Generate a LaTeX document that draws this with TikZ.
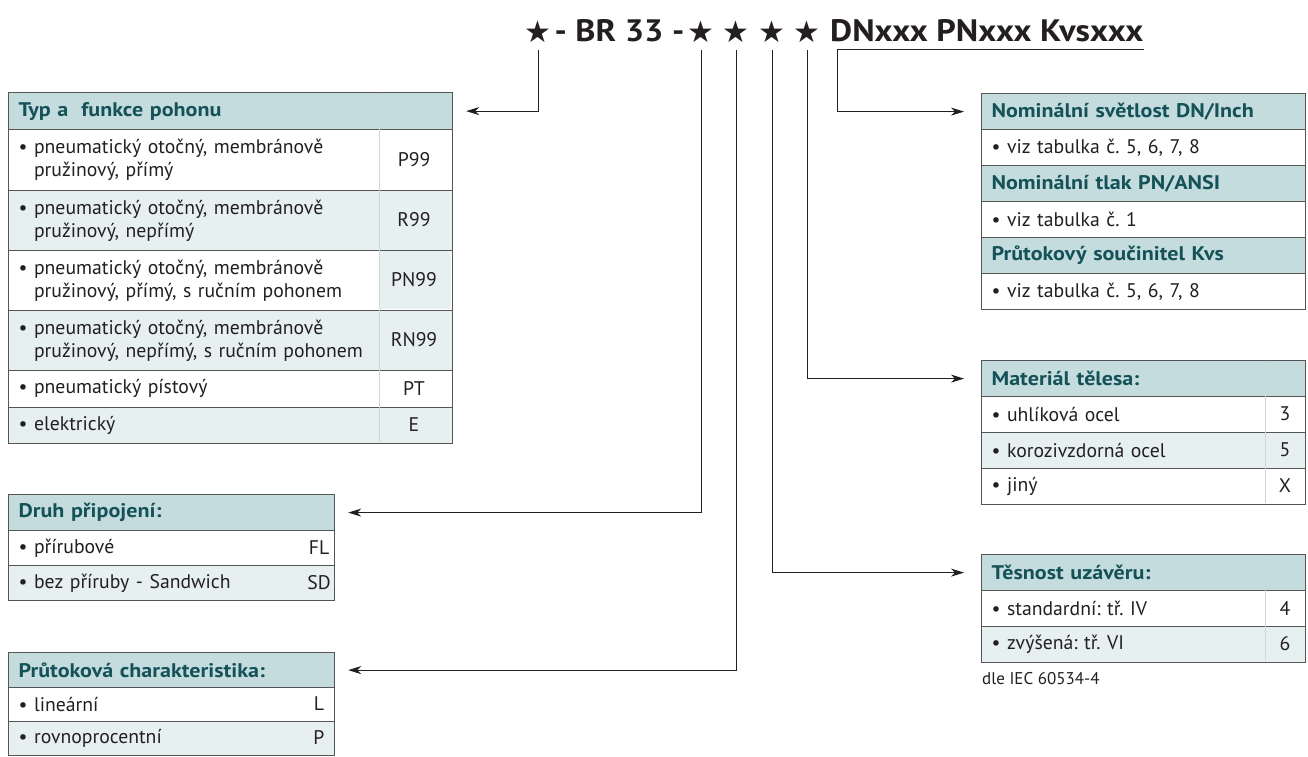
\documentclass[tikz,border=0pt]{standalone}
\usepackage{fontspec}
\setmainfont{PT Sans}
\newfontfamily\symfont{DejaVu Sans}
\newfontfamily\hdrfont[FakeStretch=1.12]{PT Sans Bold}
\newfontfamily\ttlfont[FakeStretch=1.1]{PT Sans Bold}
\usetikzlibrary{arrows.meta}
\frenchspacing
\definecolor{hdrc}{RGB}{197,220,223}
\definecolor{altc}{RGB}{230,240,241}
\definecolor{hdrtxt}{RGB}{20,82,88}
\definecolor{bordc}{RGB}{85,85,85}
\definecolor{sepc}{RGB}{208,214,215}
\definecolor{inkc}{RGB}{35,31,32}
\newcommand{\bodyfnt}{\fontsize{19.7}{23}\selectfont}
\newcommand{\bul}{\phantom{•\ }}
\tikzset{
  cellbase/.style={draw=bordc, line width=1.2pt, inner xsep=10pt, inner ysep=0pt,
    align=left, anchor=north west, text=inkc, font=\bodyfnt},
  hdr/.style={cellbase, fill=hdrc, text=hdrtxt, font=\hdrfont\bodyfnt},
  wrow/.style={cellbase, fill=white},
  arow/.style={cellbase, fill=altc},
  code/.style={text=inkc, font=\bodyfnt, inner sep=0pt},
  sepline/.style={draw=sepc, line width=0.7pt},
  conn/.style={draw=inkc, line width=1pt, -{Stealth[length=13pt, width=8pt, inset=4pt]}},
  starnode/.style={font=\symfont\fontsize{30}{30}\selectfont, inner sep=0pt, text=inkc},
  ttl/.style={font=\ttlfont\fontsize{31}{31}\selectfont, inner sep=0pt, text=inkc},
}
\begin{document}
\begin{tikzpicture}[x=1pt,y=-1pt]
\useasboundingbox (0,0) rectangle (1308,756);

% ---------- title ----------
\node[starnode, anchor=base] (s1) at (538,42) {★};
\node[ttl, anchor=base] (t1) at (619.5,41) {- BR 33 -};
\node[starnode, anchor=base] (s2) at (701,42) {★};
\node[starnode, anchor=base] (s3) at (736,42) {★};
\node[starnode, anchor=base] (s4) at (772,42) {★};
\node[starnode, anchor=base] (s5) at (807,42) {★};
\node[ttl, anchor=base west] (t2) at (830,41) {DNxxx PNxxx Kvsxxx};
\coordinate (dnR) at (1144,49);
\coordinate (dnL) at (837,49);

% ---------- Typ a funkce pohonu ----------
\node[hdr, text width=424pt, minimum height=37pt] (typ) at (8,92) {Typ a\ \ funkce pohonu};
\node[wrow, text width=424pt, minimum height=61pt] (typ1) at (8,129) {• pneumatický otočný, membránově\\\bul pružinový, přímý};
\node[arow, text width=424pt, minimum height=60pt] (typ2) at (8,190) {• pneumatický otočný, membránově\\\bul pružinový, nepřímý};
\node[wrow, text width=424pt, minimum height=60pt] (typ3) at (8,250) {• pneumatický otočný, membránově\\\bul pružinový, přímý, s ručním pohonem};
\node[arow, text width=424pt, minimum height=60pt] (typ4) at (8,310) {• pneumatický otočný, membránově\\\bul pružinový, nepřímý, s ručním pohonem};
\node[wrow, text width=424pt, minimum height=36.5pt] (typ5) at (8,370) {• pneumatický pístový};
\node[arow, text width=424pt, minimum height=36.5pt] (typ6) at (8,406.5) {• elektrický};
\fill[altc] (379,250.6) rectangle (451.4,309.4);
\draw[sepline] (379,92.6) -- (379,442.4);
\node[code] (cP99) at (414,159.5) {P99};
\node[code] (cR99) at (414,220) {R99};
\node[code] (cPN99) at (414,280) {PN99};
\node[code] (cRN99) at (414,340) {RN99};
\node[code] (cPT) at (414,388.25) {PT};
\node[code] (cE) at (414,424.75) {E};

% ---------- Druh připojení ----------
\node[hdr, text width=306pt, minimum height=36pt] (druh) at (8,494) {Druh připojení:};
\node[wrow, text width=306pt, minimum height=35pt] (druh1) at (8,530) {• přírubové};
\node[arow, text width=306pt, minimum height=35pt] (druh2) at (8,565) {• bez příruby - Sandwich};
\node[code] (cFL) at (319,547.5) {FL};
\node[code] (cSD) at (319,582.5) {SD};

% ---------- Průtoková charakteristika ----------
\node[hdr, text width=306pt, minimum height=35pt] (prut) at (8,652) {Průtoková charakteristika:};
\node[wrow, text width=306pt, minimum height=34pt] (prut1) at (8,687) {• lineární};
\node[arow, text width=306pt, minimum height=34pt] (prut2) at (8,721) {• rovnoprocentní};
\node[code] (cL) at (319,704) {L};
\node[code] (cP) at (319,738) {P};

% ---------- Nominální ----------
\node[hdr, text width=304pt, minimum height=36pt] (nom) at (981,93) {Nominální světlost DN/Inch};
\node[wrow, text width=304pt, minimum height=36pt] (nom1) at (981,129) {• viz tabulka č. 5, 6, 7, 8};
\node[hdr, text width=304pt, minimum height=36pt] (pn) at (981,165) {Nominální tlak PN/ANSI};
\node[wrow, text width=304pt, minimum height=36pt] (pn1) at (981,201) {• viz tabulka č. 1};
\node[hdr, text width=304pt, minimum height=36pt] (kvs) at (981,237) {Průtokový součinitel Kvs};
\node[wrow, text width=304pt, minimum height=36pt] (kvs1) at (981,273) {• viz tabulka č. 5, 6, 7, 8};

% ---------- Materiál tělesa ----------
\node[hdr, text width=304pt, minimum height=36pt] (mat) at (981,360) {Materiál tělesa:};
\node[wrow, text width=304pt, minimum height=36pt] (mat1) at (981,396) {• uhlíková ocel};
\node[arow, text width=304pt, minimum height=36pt] (mat2) at (981,432) {• korozivzdorná ocel};
\node[wrow, text width=304pt, minimum height=36pt] (mat3) at (981,468) {• jiný};
\draw[sepline] (1265,360.6) -- (1265,503.4);
\node[code] (c3) at (1285,414) {3};
\node[code] (c5) at (1285,450) {5};
\node[code] (cX) at (1285,486) {X};

% ---------- Těsnost uzávěru ----------
\node[hdr, text width=304pt, minimum height=36pt] (tes) at (981,554) {Těsnost uzávěru:};
\node[wrow, text width=304pt, minimum height=36pt] (tes1) at (981,590) {• standardní: tř. IV};
\node[arow, text width=304pt, minimum height=36pt] (tes2) at (981,626) {• zvýšená: tř. VI};
\draw[sepline] (1265,554.6) -- (1265,661.4);
\node[code] (c4) at (1285,608) {4};
\node[code] (c6) at (1285,644) {6};
\node[anchor=west, inner sep=0pt, text=inkc, font=\fontsize{17}{20}\selectfont] (iec) at (982,679) {dle IEC 60534-4};

% ---------- connectors ----------
\draw[conn, shorten >=13pt] ([yshift=-8pt]s1.base) |- (typ.east);
\draw[conn, shorten >=13pt] ([yshift=-8pt]s2.base) |- (druh.east);
\draw[conn, shorten >=13pt] ([yshift=-8pt]s3.base) |- (prut.east);
\draw[conn, shorten >=17pt] ([yshift=-8pt]s4.base) |- (tes.west);
\draw[conn, shorten >=17pt] ([yshift=-8pt]s5.base) |- (mat.west);
\draw[conn, shorten >=17pt] (dnR) -- (dnL) |- (nom.west);
\end{tikzpicture}
\end{document}
